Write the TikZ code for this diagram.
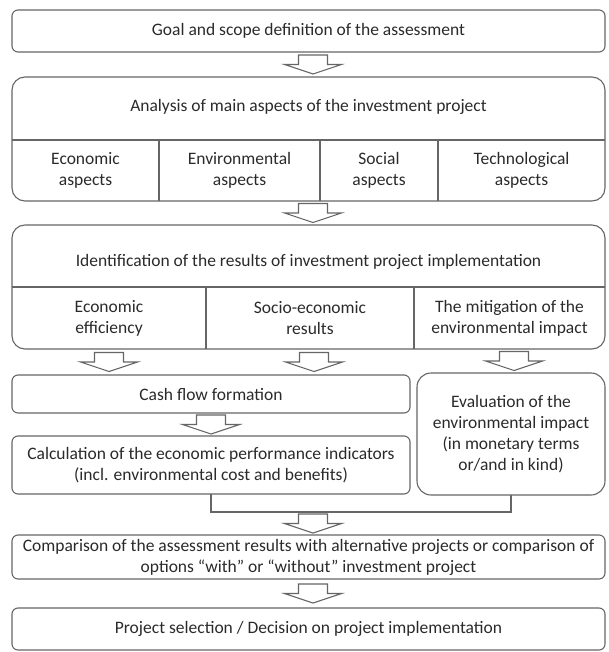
\documentclass[tikz,border=0pt]{standalone}
\usepackage{fontspec}
\setmainfont{Carlito}
\usetikzlibrary{positioning,calc}
\definecolor{linegray}{HTML}{666666}
\definecolor{textgray}{HTML}{2A2A2A}
\newcommand\txtsize{\fontsize{17.5}{21}\selectfont}

\begin{document}
\begin{tikzpicture}[x=1pt, y=1pt,
	box/.style={draw=linegray, line width=1.1pt, rounded corners=6pt, outer sep=0pt, inner sep=0pt, minimum width=593pt, align=center, text=textgray, font=\txtsize},
	bigbox/.style={box, rounded corners=13pt},
	cell/.style={outer sep=0pt, inner sep=0pt, align=center, text=textgray, font=\txtsize},
	boxline/.style={draw=linegray, line width=1.1pt},
	hollow/.pic={
		\draw[draw=linegray, line width=1.1pt, fill=white] (-14.5,9.5) -- (14.5,9.5) -- (14.5,0) -- (28.5,0) -- (0,-9.5) -- (-28.5,0) -- (-14.5,0) -- cycle;
	}]
\useasboundingbox (0,0) rectangle (608,-652);

\node[box, minimum height=42pt] (goal) at (308.5,-31) {Goal and scope definition of the assessment};

\node[bigbox, minimum height=124pt] (analysis) at (308.5,-139) {};
\node[cell] (analysistitle) at (308.5,-107) {Analysis of main aspects of the investment project};
\node[cell, minimum width=147pt, minimum height=61pt, anchor=north west] (ecoasp) at (12,-140) {Economic\\aspects};
\node[cell, minimum width=161pt, minimum height=61pt, right=0pt of ecoasp] (envasp) {Environmental\\aspects};
\node[cell, minimum width=118pt, minimum height=61pt, right=0pt of envasp] (socasp) {Social\\aspects};
\node[cell, minimum width=167pt, minimum height=61pt, right=0pt of socasp] (tecasp) {Technological\\aspects};
\draw[boxline] (analysis.west |- ecoasp.north) -- (analysis.east |- ecoasp.north);
\draw[boxline] (ecoasp.north east) -- (ecoasp.south east);
\draw[boxline] (envasp.north east) -- (envasp.south east);
\draw[boxline] (socasp.north east) -- (socasp.south east);

\node[bigbox, minimum height=124pt] (results) at (308.5,-287) {};
\node[cell] (resultstitle) at (308.5,-262) {Identification of the results of investment project implementation};
\node[cell, minimum width=194pt, minimum height=62pt, anchor=north west] (ecoeff) at (12,-287) {Economic\\efficiency};
\node[cell, minimum width=208pt, minimum height=62pt, right=0pt of ecoeff] (socres) {Socio-economic\\results};
\node[cell, minimum width=191pt, minimum height=62pt, right=0pt of socres] (mitig) {The mitigation of the\\environmental impact};
\draw[boxline] (results.west |- ecoeff.north) -- (results.east |- ecoeff.north);
\draw[boxline] (ecoeff.north east) -- (ecoeff.south east);
\draw[boxline] (socres.north east) -- (socres.south east);

\node[box, minimum width=398pt, minimum height=38pt] (cashflow) at (211,-394) {Cash flow formation};
\node[box, minimum width=398pt, minimum height=58pt] (calc) at (211,-465) {Calculation of the economic performance indicators\\(incl. environmental cost and benefits)};
\node[box, rounded corners=14pt, minimum width=188pt, minimum height=122pt] (evalimp) at (511,-434) {Evaluation of the\\environmental impact\\(in monetary terms\\or/and in kind)};

\coordinate (join) at ($(calc.south)+(0,-18)$);
\draw[boxline] (calc.south) -- (join) -| (evalimp.south);

\node[box, minimum height=44pt] (compare) at (308.5,-557) {Comparison of the assessment results with alternative projects or comparison of\\options ``with'' or ``without'' investment project};
\node[box, minimum height=42pt] (select) at (308.5,-629) {Project selection / Decision on project implementation};

\pic at ($(goal.south)!0.5!(analysis.north)+(4.5,0)$) {hollow};
\pic at ($(analysis.south)!0.5!(results.north)+(4.5,0)$) {hollow};
\pic at ($(ecoeff.south)!0.5!(ecoeff.south |- cashflow.north)$) {hollow};
\pic at ($(socres.south)!0.5!(socres.south |- cashflow.north)+(4,0)$) {hollow};
\pic at ($(mitig.south)!0.5!(mitig.south |- evalimp.north)+(4.5,0)$) {hollow};
\pic at ($(cashflow.south)!0.5!(calc.north)$) {hollow};
\pic at ($(join -| compare.north)!0.5!(compare.north)+(4.5,0)$) {hollow};
\pic at ($(compare.south)!0.5!(select.north)+(4.5,0)$) {hollow};
\end{tikzpicture}
\end{document}
